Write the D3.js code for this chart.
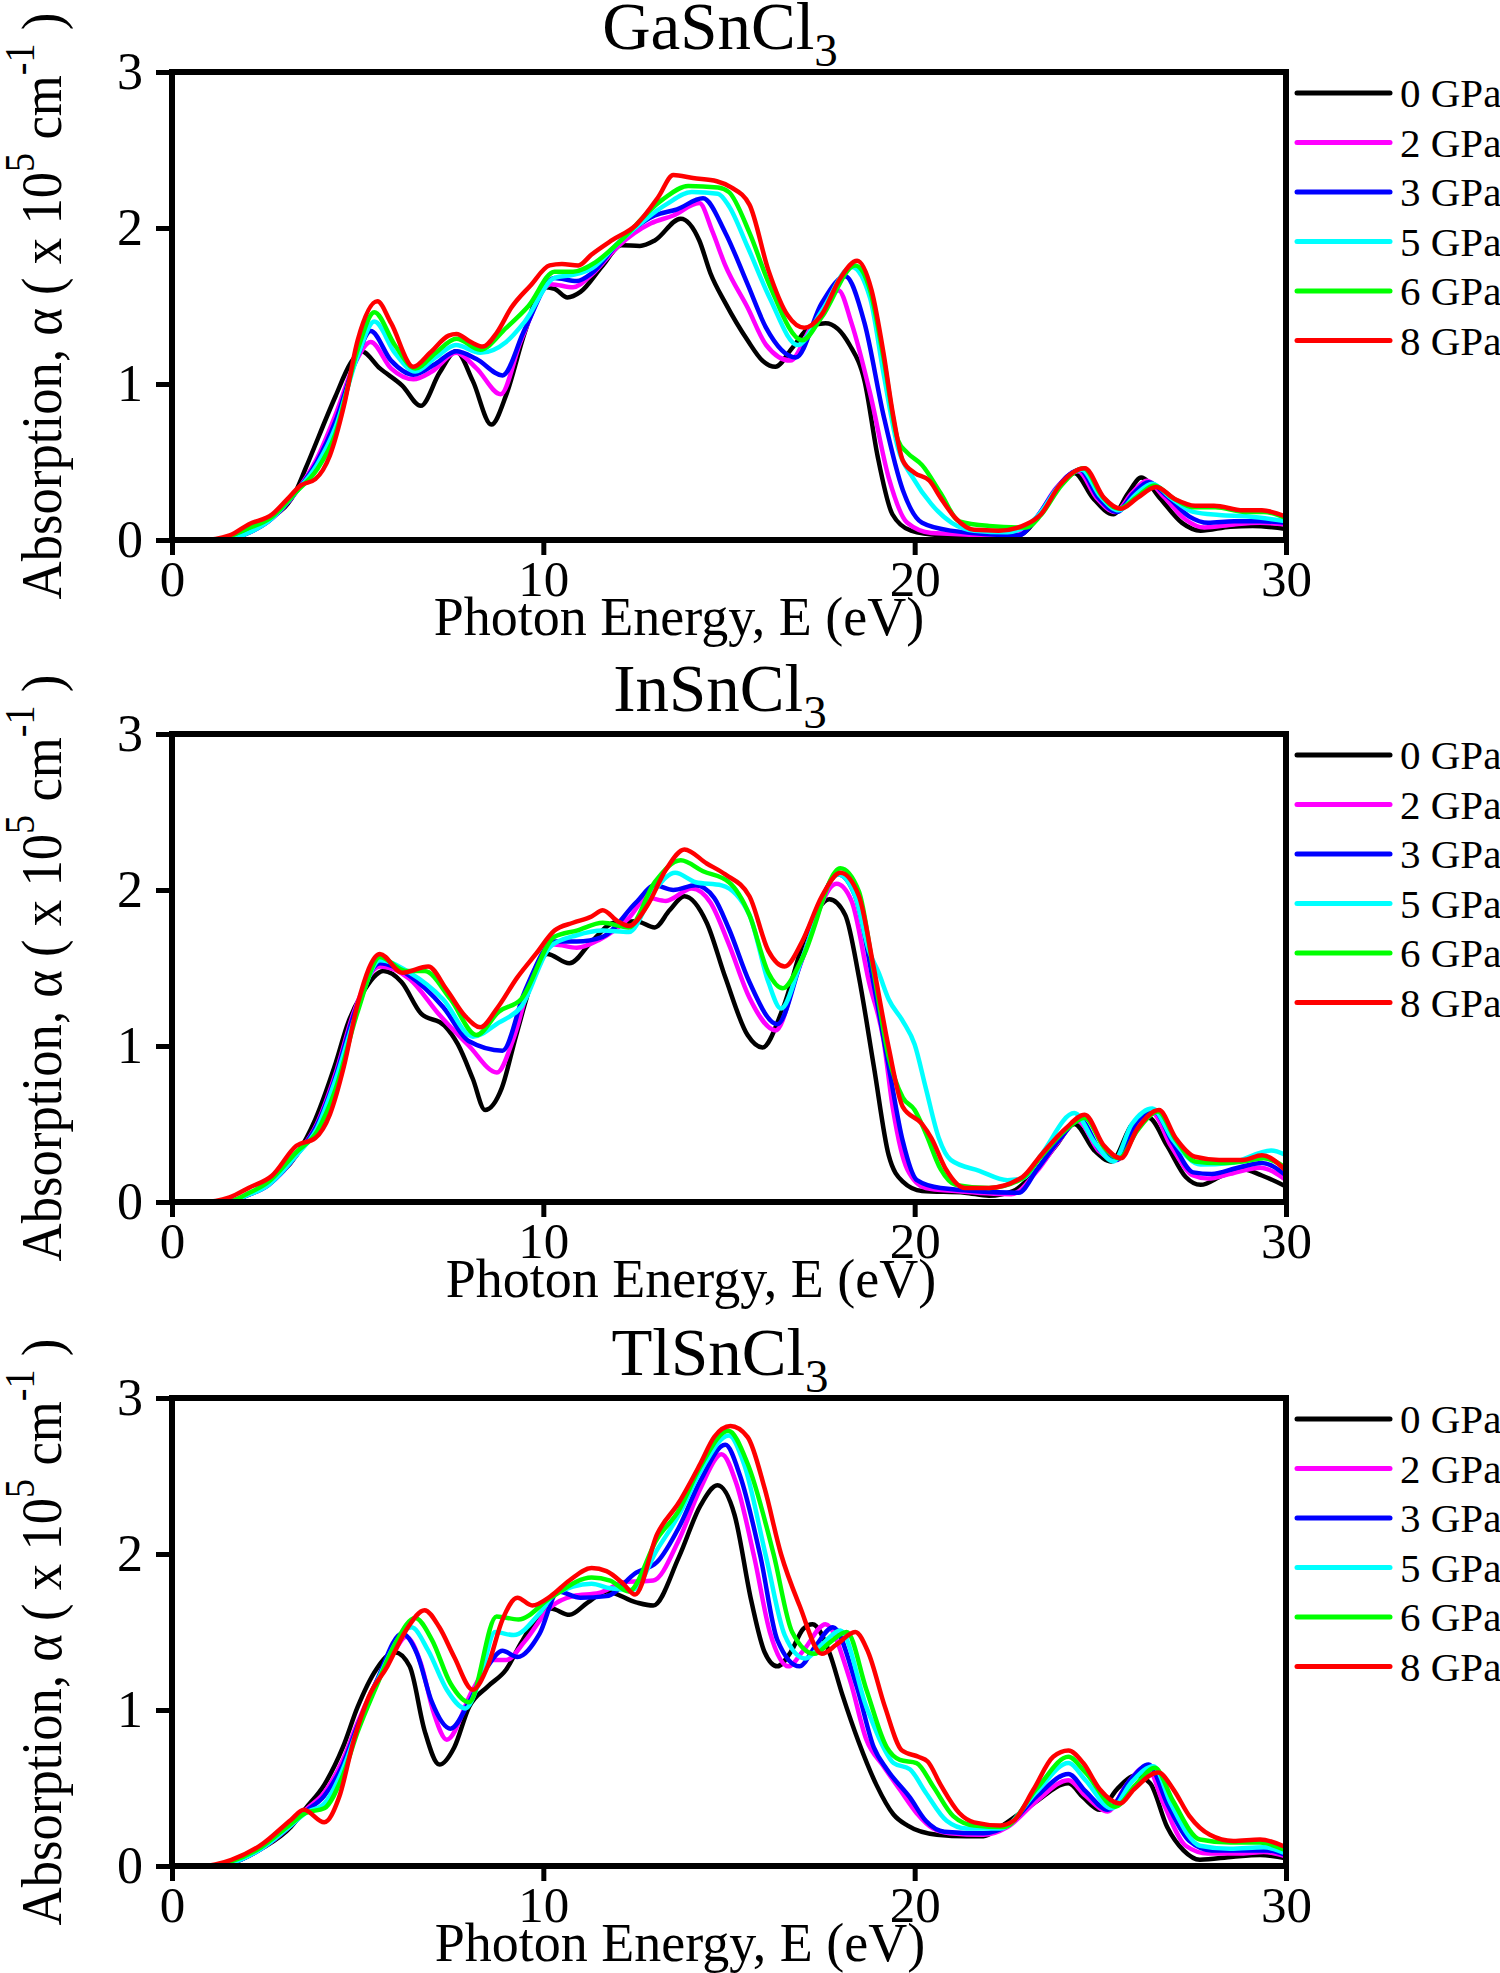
<!DOCTYPE html>
<html>
<head>
<meta charset="utf-8">
<script src="https://cdn.jsdelivr.net/npm/d3@7"></script>
<style>
  body { margin: 0; background: #fff; }
  text { font-family: "Liberation Serif", "Times New Roman", serif; fill: #000; }
</style>
</head>
<body>
<svg id="chart" width="1500" height="1973"></svg>
<script>
// legend entries and line colours, same order for all three panels
const pressures = ["0 GPa", "2 GPa", "3 GPa", "5 GPa", "6 GPa", "8 GPa"];
const colors = ["#000000", "#ff00ff", "#0000ff", "#00ffff", "#00ff00", "#ff0000"];
const titles = ["GaSnCl", "InSnCl", "TlSnCl"];   // followed by a subscript 3
const xTicks = [0, 10, 20, 30];
const yTicks = [0, 1, 2, 3];

// GaSnCl3 : [photon energy (eV), absorption (x10^5 cm^-1)]
const ga0 = [[0,0],[1.4,0],[2.0,0.05],[2.6,0.13],[3.35,0.32],[3.6,0.46],[4.4,0.92],[4.8,1.13],[5.1,1.21],[5.6,1.10],[6.2,0.99],[6.7,0.86],[7.2,1.07],[7.65,1.21],[8.1,1.02],[8.6,0.74],[9.0,0.93],[9.5,1.33],[10.0,1.62],[10.3,1.61],[10.65,1.555],[11.0,1.59],[11.6,1.76],[12.1,1.89],[12.6,1.885],[13.0,1.92],[13.7,2.06],[14.2,1.92],[14.5,1.71],[14.9,1.52],[15.5,1.28],[15.9,1.15],[16.25,1.11],[16.7,1.23],[17.2,1.37],[17.6,1.39],[18.25,1.25],[18.65,1.02],[19.0,0.54],[19.4,0.165],[19.9,0.06],[20.7,0.03],[22.0,0.02],[22.8,0.03],[23.3,0.14],[23.8,0.32],[24.3,0.43],[24.8,0.27],[25.35,0.165],[25.75,0.30],[26.1,0.40],[26.6,0.27],[27.2,0.11],[27.7,0.06],[28.5,0.085],[29.1,0.09],[30,0.07]];
const ga2 = [[0,0],[1.5,0],[2.0,0.04],[2.6,0.12],[3.35,0.31],[3.9,0.52],[4.4,0.80],[4.9,1.12],[5.35,1.27],[5.9,1.10],[6.5,1.03],[7.0,1.08],[7.65,1.20],[8.2,1.10],[8.85,0.935],[9.4,1.28],[10.2,1.64],[10.8,1.62],[11.3,1.70],[12.0,1.88],[12.9,2.03],[13.5,2.08],[14.2,2.16],[14.55,1.98],[14.9,1.76],[15.5,1.49],[16.0,1.25],[16.65,1.15],[17.2,1.36],[17.95,1.60],[18.3,1.39],[18.8,0.94],[19.3,0.40],[19.8,0.11],[20.45,0.045],[22.5,0.03],[23.3,0.15],[23.8,0.33],[24.4,0.44],[24.9,0.27],[25.4,0.18],[25.85,0.30],[26.25,0.38],[26.7,0.28],[27.3,0.13],[27.8,0.08],[28.6,0.10],[29.3,0.11],[30,0.10]];
const ga3 = [[0,0],[1.5,0],[2.0,0.04],[2.6,0.12],[3.35,0.31],[3.9,0.50],[4.4,0.76],[4.95,1.15],[5.35,1.34],[5.9,1.15],[6.5,1.06],[7.1,1.13],[7.65,1.21],[8.2,1.16],[8.9,1.055],[9.5,1.35],[10.3,1.68],[10.9,1.66],[11.3,1.71],[12.0,1.90],[13.0,2.08],[13.6,2.12],[14.3,2.19],[14.9,1.97],[15.5,1.64],[16.0,1.36],[16.8,1.17],[17.5,1.52],[18.13,1.69],[18.65,1.39],[19.16,0.80],[19.68,0.32],[20.2,0.11],[20.97,0.06],[22.8,0.03],[23.3,0.15],[23.85,0.34],[24.45,0.45],[24.95,0.27],[25.45,0.18],[25.9,0.30],[26.3,0.37],[26.8,0.28],[27.4,0.15],[27.9,0.11],[28.6,0.12],[29.3,0.12],[30,0.11]];
const ga5 = [[0,0],[1.5,0],[2.0,0.04],[2.6,0.12],[3.35,0.31],[3.9,0.48],[4.4,0.72],[5.0,1.18],[5.45,1.40],[6.0,1.20],[6.55,1.08],[7.1,1.17],[7.65,1.25],[8.3,1.20],[9.0,1.27],[9.5,1.40],[10.3,1.68],[10.8,1.70],[11.3,1.74],[12.0,1.90],[13.3,2.15],[14.0,2.23],[14.7,2.22],[15.0,2.14],[15.5,1.88],[16.1,1.55],[16.85,1.25],[17.5,1.47],[18.3,1.75],[18.8,1.55],[19.16,1.07],[19.55,0.59],[19.95,0.40],[20.45,0.23],[21.0,0.11],[21.6,0.06],[22.5,0.05],[23.3,0.15],[23.9,0.35],[24.5,0.45],[25.0,0.28],[25.5,0.19],[25.95,0.29],[26.4,0.36],[26.9,0.27],[27.5,0.18],[28.2,0.16],[29.0,0.15],[30,0.12]];
const ga6 = [[0,0],[1.2,0],[2.0,0.07],[2.7,0.15],[3.35,0.31],[3.9,0.45],[4.4,0.68],[5.0,1.22],[5.45,1.46],[6.0,1.25],[6.55,1.10],[7.1,1.20],[7.66,1.29],[8.3,1.22],[9.0,1.36],[9.6,1.50],[10.3,1.72],[10.8,1.72],[11.4,1.78],[12.0,1.90],[13.2,2.18],[13.9,2.27],[14.7,2.26],[15.0,2.23],[15.55,1.97],[16.1,1.63],[16.97,1.28],[17.5,1.43],[18.4,1.76],[18.8,1.60],[19.16,1.17],[19.55,0.64],[19.8,0.56],[20.2,0.48],[20.7,0.30],[21.2,0.12],[22.0,0.09],[23.0,0.08],[23.4,0.16],[23.95,0.35],[24.55,0.46],[25.05,0.28],[25.5,0.20],[26.0,0.28],[26.45,0.35],[26.95,0.27],[27.5,0.21],[28.1,0.21],[28.9,0.18],[29.4,0.18],[30,0.14]];
const ga8 = [[0,0],[0.8,0],[1.55,0.03],[2.06,0.10],[2.7,0.165],[3.1,0.26],[3.47,0.35],[3.86,0.39],[4.25,0.54],[4.63,0.86],[5.0,1.28],[5.53,1.53],[5.9,1.39],[6.5,1.11],[6.95,1.20],[7.45,1.31],[7.66,1.32],[8.04,1.27],[8.37,1.24],[8.75,1.33],[9.14,1.49],[9.65,1.63],[10.17,1.76],[10.5,1.77],[10.94,1.76],[11.3,1.83],[11.84,1.92],[12.5,2.02],[13.1,2.20],[13.5,2.34],[14.03,2.32],[14.67,2.30],[15.06,2.26],[15.55,2.15],[16.06,1.73],[16.58,1.44],[17.03,1.36],[17.48,1.44],[18.0,1.68],[18.45,1.79],[18.84,1.60],[19.16,1.20],[19.42,0.80],[19.68,0.51],[20.0,0.43],[20.4,0.38],[20.7,0.27],[21.1,0.14],[21.6,0.065],[22.26,0.06],[23.0,0.10],[23.4,0.165],[23.9,0.35],[24.58,0.46],[25.1,0.27],[25.55,0.20],[26.0,0.27],[26.5,0.34],[27.03,0.26],[27.55,0.22],[28.06,0.22],[28.84,0.19],[29.35,0.19],[30,0.15]];

// InSnCl3
const in0 = [[0,0],[1.4,0],[2.0,0.04],[2.57,0.12],[3.35,0.30],[3.86,0.53],[4.38,0.87],[4.76,1.16],[5.11,1.33],[5.7,1.48],[6.18,1.41],[6.7,1.21],[7.34,1.13],[7.7,1.01],[8.1,0.79],[8.43,0.59],[8.88,0.73],[9.27,1.07],[9.78,1.47],[10.1,1.59],[10.7,1.53],[11.3,1.67],[11.9,1.79],[12.5,1.80],[13.0,1.76],[13.4,1.87],[13.8,1.96],[14.4,1.79],[14.9,1.44],[15.5,1.07],[15.9,0.99],[16.45,1.24],[17.1,1.73],[17.7,1.94],[18.13,1.84],[18.5,1.44],[18.9,0.87],[19.3,0.30],[19.68,0.13],[20.2,0.07],[21.35,0.06],[22.0,0.04],[22.65,0.07],[23.3,0.21],[23.8,0.36],[24.3,0.50],[24.84,0.33],[25.3,0.26],[25.87,0.50],[26.3,0.54],[26.8,0.36],[27.3,0.16],[27.7,0.11],[28.3,0.17],[28.84,0.21],[29.35,0.17],[30,0.10]];
const in2 = [[0,0],[1.5,0],[2.0,0.04],[2.6,0.11],[3.35,0.30],[3.9,0.50],[4.4,0.82],[4.9,1.22],[5.6,1.51],[6.4,1.43],[7.2,1.20],[8.0,1.00],[8.75,0.83],[9.2,1.05],[9.7,1.45],[10.3,1.65],[10.9,1.63],[11.5,1.68],[12.3,1.82],[12.8,1.95],[13.3,1.93],[14.0,2.01],[14.5,1.92],[15.0,1.65],[15.55,1.31],[16.26,1.10],[16.84,1.47],[17.9,2.04],[18.3,1.93],[18.77,1.41],[19.16,1.04],[19.42,0.59],[19.8,0.21],[20.3,0.09],[21.1,0.07],[22.6,0.05],[23.3,0.20],[23.85,0.38],[24.4,0.52],[24.95,0.33],[25.45,0.27],[25.95,0.50],[26.4,0.57],[26.9,0.36],[27.5,0.17],[27.9,0.15],[28.5,0.18],[29.3,0.22],[30,0.14]];
const in3 = [[0,0],[1.5,0],[2.0,0.04],[2.6,0.11],[3.35,0.30],[3.9,0.49],[4.4,0.80],[4.9,1.20],[5.6,1.53],[6.4,1.45],[7.3,1.25],[8.0,1.03],[8.9,0.97],[9.5,1.35],[10.3,1.67],[10.9,1.67],[11.6,1.70],[12.5,1.92],[13.0,2.03],[13.5,2.00],[14.1,2.03],[14.6,1.95],[15.0,1.75],[15.55,1.41],[16.3,1.14],[16.97,1.56],[17.94,2.10],[18.4,1.96],[18.9,1.39],[19.3,0.87],[19.68,0.39],[20.06,0.14],[20.7,0.09],[22.8,0.06],[23.3,0.21],[23.9,0.40],[24.45,0.53],[25.0,0.33],[25.45,0.27],[26.0,0.52],[26.45,0.58],[26.95,0.38],[27.5,0.19],[28.0,0.18],[28.7,0.22],[29.35,0.25],[30,0.17]];
const in5 = [[0,0],[1.5,0],[2.0,0.04],[2.6,0.11],[3.35,0.30],[3.9,0.47],[4.4,0.78],[4.95,1.20],[5.6,1.55],[6.4,1.47],[7.3,1.30],[8.1,1.06],[8.8,1.15],[9.4,1.25],[10.2,1.64],[10.9,1.71],[11.6,1.74],[12.3,1.73],[13.0,2.00],[13.55,2.11],[14.1,2.05],[14.8,2.03],[15.55,1.84],[16.06,1.41],[16.4,1.24],[16.97,1.56],[17.94,2.10],[18.4,1.96],[18.77,1.61],[19.03,1.47],[19.3,1.30],[19.68,1.16],[20.0,1.01],[20.3,0.73],[20.65,0.41],[20.97,0.27],[21.74,0.20],[22.5,0.14],[22.9,0.15],[23.4,0.30],[24.3,0.57],[24.85,0.38],[25.35,0.26],[25.85,0.50],[26.4,0.60],[26.95,0.40],[27.7,0.24],[28.5,0.25],[29.6,0.33],[30,0.30]];
const in6 = [[0,0],[1.5,0],[2.0,0.05],[2.6,0.13],[3.35,0.32],[3.9,0.45],[4.4,0.72],[5.0,1.22],[5.6,1.57],[6.3,1.48],[6.8,1.48],[7.5,1.30],[8.2,1.07],[8.8,1.22],[9.4,1.30],[10.3,1.70],[10.9,1.74],[11.6,1.79],[12.3,1.76],[13.0,2.05],[13.7,2.19],[14.3,2.12],[15.0,2.05],[15.55,1.84],[16.06,1.47],[16.45,1.37],[16.97,1.56],[18.0,2.14],[18.5,1.99],[18.9,1.47],[19.3,0.93],[19.68,0.67],[20.0,0.59],[20.3,0.44],[20.7,0.21],[21.1,0.11],[22.0,0.09],[22.9,0.15],[23.4,0.29],[24.06,0.46],[24.58,0.54],[25.1,0.35],[25.5,0.28],[26.0,0.46],[26.55,0.58],[27.03,0.40],[27.55,0.26],[28.2,0.25],[28.84,0.26],[29.4,0.28],[30,0.22]];
const in8 = [[0,0],[0.8,0],[1.55,0.03],[2.06,0.09],[2.7,0.17],[3.35,0.36],[3.86,0.41],[4.25,0.56],[4.63,0.87],[5.0,1.27],[5.6,1.59],[6.2,1.47],[6.9,1.51],[7.4,1.36],[7.9,1.19],[8.3,1.12],[8.75,1.24],[9.3,1.44],[9.8,1.59],[10.3,1.74],[10.8,1.79],[11.3,1.83],[11.6,1.87],[12.0,1.80],[12.3,1.77],[12.8,1.90],[13.3,2.13],[13.8,2.26],[14.4,2.17],[14.9,2.10],[15.55,1.96],[16.06,1.61],[16.5,1.51],[16.97,1.67],[17.5,1.96],[18.0,2.11],[18.5,1.96],[18.9,1.50],[19.3,0.99],[19.68,0.61],[20.2,0.50],[20.45,0.41],[20.84,0.21],[21.35,0.09],[22.0,0.09],[22.9,0.16],[23.4,0.30],[24.06,0.47],[24.58,0.56],[25.1,0.36],[25.55,0.28],[26.0,0.47],[26.58,0.59],[27.03,0.41],[27.55,0.29],[28.2,0.27],[28.84,0.27],[29.35,0.30],[30,0.20]];

// TlSnCl3
const tl0 = [[0,0],[0.8,0],[1.6,0.02],[2.4,0.11],[3.2,0.25],[3.6,0.37],[4.1,0.52],[4.6,0.76],[5.0,1.02],[5.5,1.26],[6.0,1.37],[6.4,1.28],[6.8,0.87],[7.2,0.65],[7.6,0.76],[8.0,1.02],[8.5,1.15],[9.0,1.26],[9.4,1.43],[9.8,1.58],[10.2,1.65],[10.7,1.61],[11.2,1.69],[11.7,1.76],[12.5,1.69],[12.96,1.67],[13.65,1.98],[14.23,2.31],[14.69,2.44],[15.15,2.25],[15.6,1.70],[15.96,1.37],[16.3,1.28],[16.66,1.37],[17.0,1.52],[17.25,1.55],[17.7,1.37],[18.05,1.10],[18.5,0.79],[18.97,0.52],[19.43,0.33],[19.8,0.26],[20.6,0.20],[21.4,0.19],[21.85,0.19],[22.3,0.25],[23.2,0.40],[24.14,0.53],[24.54,0.44],[24.99,0.36],[25.44,0.49],[25.95,0.58],[26.34,0.53],[26.8,0.25],[27.24,0.10],[27.68,0.04],[28.58,0.06],[29.3,0.07],[30,0.05]];
const tl2 = [[0,0],[0.9,0],[1.6,0.02],[2.4,0.11],[3.2,0.26],[3.6,0.36],[4.1,0.47],[4.6,0.68],[5.0,0.92],[5.5,1.18],[6.0,1.38],[6.3,1.47],[6.7,1.30],[7.05,0.98],[7.4,0.81],[8.1,1.13],[8.65,1.32],[9.0,1.32],[9.5,1.44],[10.2,1.66],[10.8,1.73],[11.5,1.75],[12.2,1.82],[12.96,1.83],[13.65,2.09],[14.23,2.42],[14.8,2.64],[15.2,2.45],[15.68,1.98],[16.1,1.50],[16.6,1.28],[17.0,1.38],[17.6,1.55],[18.26,1.19],[18.7,0.81],[19.16,0.64],[19.6,0.49],[20.05,0.34],[20.5,0.24],[20.95,0.21],[21.85,0.20],[22.5,0.25],[23.3,0.42],[24.14,0.55],[24.6,0.45],[25.2,0.35],[25.7,0.52],[26.25,0.64],[26.7,0.40],[27.3,0.13],[27.9,0.08],[28.8,0.08],[29.4,0.09],[30,0.06]];
const tl3 = [[0,0],[0.9,0],[1.6,0.02],[2.4,0.11],[3.2,0.26],[3.6,0.35],[4.1,0.45],[4.6,0.65],[5.0,0.90],[5.5,1.18],[6.2,1.49],[6.6,1.36],[7.0,1.05],[7.5,0.88],[8.0,1.05],[8.5,1.28],[8.9,1.38],[9.3,1.34],[9.9,1.49],[10.4,1.76],[11.0,1.72],[11.7,1.73],[12.5,1.88],[13.07,1.95],[13.65,2.17],[14.23,2.47],[14.9,2.70],[15.3,2.50],[15.85,1.98],[16.3,1.45],[16.9,1.28],[17.3,1.40],[17.8,1.53],[18.44,1.15],[18.9,0.76],[19.25,0.62],[19.87,0.44],[20.3,0.29],[20.8,0.22],[21.85,0.21],[22.5,0.26],[23.3,0.45],[24.14,0.59],[24.6,0.48],[25.2,0.36],[25.8,0.55],[26.3,0.65],[26.8,0.40],[27.4,0.16],[28.0,0.10],[28.9,0.10],[29.5,0.10],[30,0.07]];
const tl5 = [[0,0],[1.0,0],[1.6,0.02],[2.4,0.11],[3.2,0.26],[3.6,0.34],[4.1,0.40],[4.6,0.62],[5.0,0.88],[5.5,1.17],[6.45,1.53],[6.9,1.38],[7.4,1.13],[7.9,1.01],[8.3,1.20],[8.7,1.50],[9.2,1.48],[9.9,1.62],[10.3,1.74],[11.3,1.81],[11.8,1.78],[12.4,1.77],[13.07,2.03],[13.65,2.25],[14.23,2.53],[15.0,2.76],[15.4,2.58],[16.0,1.98],[16.5,1.48],[17.05,1.33],[17.5,1.42],[18.0,1.51],[18.7,1.02],[19.16,0.76],[19.43,0.66],[19.87,0.62],[20.3,0.47],[20.86,0.29],[21.4,0.24],[22.3,0.24],[23.3,0.48],[24.14,0.66],[24.6,0.55],[25.3,0.37],[25.85,0.54],[26.43,0.64],[26.9,0.40],[27.68,0.13],[28.5,0.11],[29.4,0.12],[30,0.08]];
const tl6 = [[0,0],[1.0,0],[1.6,0.03],[2.4,0.12],[3.2,0.27],[3.6,0.34],[4.1,0.37],[4.6,0.58],[5.0,0.86],[5.5,1.15],[6.0,1.42],[6.55,1.59],[7.0,1.45],[7.5,1.17],[8.0,1.05],[8.74,1.60],[9.33,1.58],[10.2,1.72],[11.3,1.85],[11.8,1.83],[12.3,1.76],[13.07,2.10],[13.65,2.28],[14.23,2.56],[14.98,2.79],[15.5,2.58],[16.2,2.0],[16.7,1.50],[17.3,1.36],[17.7,1.43],[18.17,1.50],[18.7,1.13],[19.25,0.76],[19.6,0.68],[20.05,0.66],[20.5,0.51],[21.04,0.32],[21.6,0.26],[22.4,0.25],[23.3,0.50],[24.14,0.70],[24.6,0.60],[25.4,0.38],[25.95,0.52],[26.47,0.63],[26.95,0.42],[27.68,0.17],[28.5,0.15],[29.3,0.15],[30,0.10]];
const tl8 = [[0,0],[0.8,0],[1.6,0.04],[2.4,0.135],[3.2,0.295],[3.55,0.36],[4.1,0.28],[4.5,0.44],[4.9,0.81],[5.3,1.085],[5.8,1.28],[6.3,1.51],[6.8,1.64],[7.2,1.53],[7.6,1.34],[8.1,1.13],[8.5,1.28],[8.9,1.58],[9.3,1.72],[9.7,1.67],[10.2,1.73],[10.7,1.83],[11.3,1.91],[11.7,1.89],[12.15,1.81],[12.47,1.74],[13.07,2.13],[13.65,2.33],[14.23,2.58],[14.6,2.75],[15.04,2.82],[15.5,2.75],[15.96,2.42],[16.4,2.0],[16.9,1.67],[17.5,1.36],[17.9,1.42],[18.4,1.50],[18.75,1.37],[19.2,1.02],[19.66,0.74],[20.1,0.70],[20.35,0.67],[20.7,0.52],[21.2,0.34],[21.6,0.28],[22.3,0.26],[22.66,0.29],[23.2,0.49],[23.73,0.70],[24.14,0.74],[24.54,0.66],[24.99,0.49],[25.53,0.40],[25.9,0.49],[26.56,0.60],[26.97,0.49],[27.4,0.32],[27.95,0.20],[28.58,0.16],[29.3,0.17],[30,0.12]];

/** Class drawing one absorption panel (axes, curves, legend). */
class AbsorptionPanel {
  /**
   * @param svg   d3 selection of the svg
   * @param top   y of the top edge of the plot box
   * @param xLabelX centre of the x axis title
   */
  constructor(svg, top, xLabelX, id) {
    this.left = 172;
    this.right = 1286;
    this.top = top;
    this.bottom = top + 468;
    this.xLabelX = xLabelX;
    this.id = id;
    this.g = svg.append("g");

    this.x = d3.scaleLinear().domain([0, 30]).range([this.left, this.right]);
    this.y = d3.scaleLinear().domain([0, 3]).range([this.bottom, this.top]);
  }

  /**
   * Axes with outward ticks, the box and the axis titles
   */
  drawAxes(title) {
    let g = this.g;

    g.append("g")
      .attr("transform", `translate(0,${this.bottom})`)
      .call(d3.axisBottom(this.x).tickValues(xTicks).tickFormat(d3.format("d"))
        .tickSize(15).tickPadding(5).tickSizeOuter(0))
      .attr("font-family", "Liberation Serif")
      .attr("font-size", 51)
      .call(a => a.select(".domain").remove())
      .call(a => a.selectAll("line").attr("stroke-width", 5));

    g.append("g")
      .attr("transform", `translate(${this.left},0)`)
      .call(d3.axisLeft(this.y).tickValues(yTicks).tickFormat(d3.format("d"))
        .tickSize(16).tickPadding(13).tickSizeOuter(0))
      .attr("font-family", "Liberation Serif")
      .attr("font-size", 52)
      .call(a => a.select(".domain").remove())
      .call(a => a.selectAll("line").attr("stroke-width", 5));

    g.append("rect")
      .attr("x", this.left)
      .attr("y", this.top)
      .attr("width", this.right - this.left)
      .attr("height", this.bottom - this.top)
      .attr("fill", "none")
      .attr("stroke", "#000")
      .attr("stroke-width", 6);

    // compound name with subscript 3
    let t = g.append("text")
      .attr("x", 720)
      .attr("y", this.top - 23)
      .attr("text-anchor", "middle")
      .attr("font-size", 67)
      .text(title);
    t.append("tspan").attr("dy", 17).attr("font-size", 47).text("3");

    g.append("text")
      .attr("x", this.xLabelX)
      .attr("y", this.bottom + 95)
      .attr("text-anchor", "middle")
      .attr("font-size", 54)
      .text("Photon Energy, E (eV)");

    // y title: glyphs look wide in the figure, so squeeze it along its length
    let cy = (this.top + this.bottom) / 2;
    let yl = g.append("text")
      .attr("text-anchor", "middle")
      .attr("font-size", 58);
    yl.append("tspan").text("Absorption, α ( x 10");
    yl.append("tspan").attr("dy", -27).attr("font-size", 42).text("5");
    yl.append("tspan").attr("dy", 27).text(" cm");
    yl.append("tspan").attr("dy", -27).attr("font-size", 42).text("-1");
    yl.append("tspan").attr("dy", 27).text(" )");
    let box = yl.node().getBBox();
    let k = 587 / box.width;
    let mid = box.x + box.width / 2;
    yl.attr("transform",
      `translate(61,${cy}) rotate(-90) scale(${k},1) translate(${-mid},0)`);
  }

  /**
   * One line per pressure, black first and red on top
   */
  drawCurves(series) {
    let line = d3.line()
      .x(d => this.x(d[0]))
      .y(d => this.y(d[1]))
      .curve(d3.curveMonotoneX);

    this.g.append("clipPath")
      .attr("id", "clip" + this.id)
      .append("rect")
      .attr("x", this.left)
      .attr("y", this.top - 20)
      .attr("width", this.right - this.left)
      .attr("height", this.bottom - this.top + 20);

    this.g.append("g")
      .attr("clip-path", `url(#clip${this.id})`)
      .selectAll("path")
      .data(series)
      .enter()
      .append("path")
      .attr("d", d => line(d))
      .attr("fill", "none")
      .attr("stroke", (d, i) => colors[i])
      .attr("stroke-width", 4.5)
      .attr("stroke-linejoin", "round");
  }

  drawLegend() {
    let rows = this.g.append("g").selectAll("g")
      .data(pressures)
      .enter()
      .append("g")
      .attr("transform", (d, i) => `translate(0,${this.top + 21 + i * 49.5})`);

    rows.append("line")
      .attr("x1", 1297)
      .attr("x2", 1390)
      .attr("stroke", (d, i) => colors[i])
      .attr("stroke-width", 5)
      .attr("stroke-linecap", "round");

    rows.append("text")
      .attr("x", 1400)
      .attr("dy", "0.35em")
      .attr("font-size", 41)
      .text(d => d);
  }
}

let svg = d3.select("#chart");
svg.append("rect").attr("width", 1500).attr("height", 1973).attr("fill", "#fff");

let panelTops = [72, 734, 1398];
let xLabelCentres = [679, 691, 680];
let allSeries = [
  [ga0, ga2, ga3, ga5, ga6, ga8],
  [in0, in2, in3, in5, in6, in8],
  [tl0, tl2, tl3, tl5, tl6, tl8]
];

panelTops.forEach(function(top, i) {
  let p = new AbsorptionPanel(svg, top, xLabelCentres[i], i);
  p.drawCurves(allSeries[i]);
  p.drawAxes(titles[i]);
  p.drawLegend();
});
</script>
</body>
</html>
